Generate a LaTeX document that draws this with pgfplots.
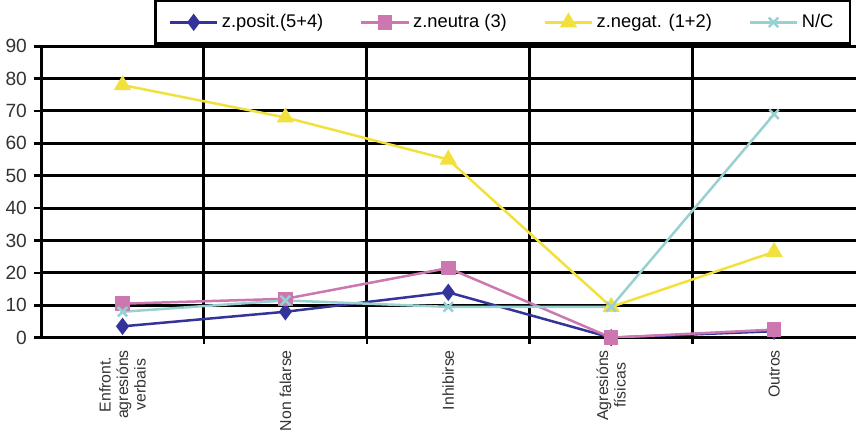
\documentclass[border=0pt]{standalone}
\usepackage{fontspec}
\setmainfont{Liberation Sans}
\usepackage{pgfplots}
\pgfplotsset{compat=1.18}
\definecolor{cposit}{HTML}{333399}
\definecolor{cneutra}{HTML}{CC77B0}
\definecolor{cnegat}{HTML}{F2E13C}
\definecolor{cnc}{HTML}{99D0D0}
\begin{document}
\begin{tikzpicture}
\begin{axis}[
    scale only axis,
    width=489pt, height=175pt,
    xmin=-0.5, xmax=4.5, ymin=0, ymax=90,
    axis x line=bottom, axis y line=left,
    axis line style={-, line width=1.8pt},
    ytick={0,10,...,90},
    xtick={0,1,2,3,4},
    xticklabels={{Enfront.\\agresións\\verbais},Non falarse,Inhibirse,{Agresións\\físicas},Outros},
    major x tick style={draw=none},
    minor xtick={0.5,1.5,2.5,3.5},
    tick align=outside,
    major tick length=4pt, minor tick length=4pt,
    every tick/.style={black, line width=1.6pt},
    xminorgrids, ymajorgrids,
    grid style={black, line width=1.8pt},
    major grid style={black, line width=1.8pt},
    minor grid style={black, line width=1.8pt},
    /pgf/number format/assume math mode=true,
    tick label style={font=\fontsize{11.5}{12}\selectfont, text=black!80},
    xticklabel style={rotate=90, anchor=east, align=center, font=\fontsize{9.5}{10.5}\selectfont},
    yticklabel style={xshift=-1pt},
    legend columns=4,
    legend image code/.code={%
        \draw[mark repeat=2, mark phase=2] plot coordinates {(0cm,0cm) (0.5cm,0cm) (1cm,0cm)};},
    legend style={at={(0.139,1.005)}, anchor=south west, draw=black, line width=1.4pt,
        font=\fontsize{11}{13}\selectfont, inner xsep=8pt, inner ysep=6pt,
        /tikz/every even column/.append style={column sep=20pt}},
    legend cell align=left,
]
\addplot[cposit, line width=1.5pt, mark=diamond*, mark size=4pt, mark options={fill=cposit}]
  coordinates {(0,3.5) (1,8) (2,14) (3,0) (4,2)};
\addplot[cneutra, line width=1.5pt, mark=square*, mark size=3.6pt, mark options={fill=cneutra}]
  coordinates {(0,10.5) (1,12) (2,21.5) (3,0) (4,2.5)};
\addplot[cnegat, line width=1.5pt, mark=triangle*, mark size=4.5pt, mark options={fill=cnegat}]
  coordinates {(0,78) (1,68) (2,55) (3,9.5) (4,26.5)};
\addplot[cnc, line width=1.5pt, mark=x, mark size=4pt, mark options={line width=1.5pt}]
  coordinates {(0,8) (1,11.5) (2,9.5) (3,9.5) (4,69)};
\legend{z.posit.(5+4),z.neutra (3),z.negat. (1+2),N/C}
\end{axis}
\end{tikzpicture}
\end{document}
